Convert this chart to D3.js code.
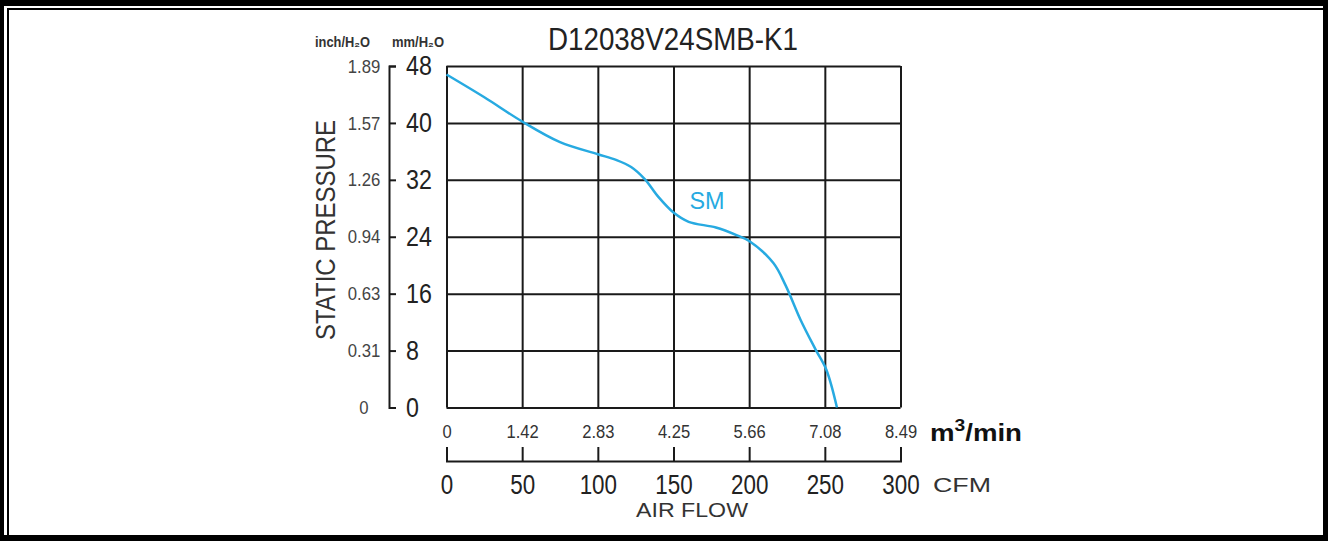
<!DOCTYPE html>
<html>
<head>
<meta charset="utf-8">
<script src="https://cdn.jsdelivr.net/npm/d3@7"></script>
<style>
  body { margin: 0; background: #fff; }
  svg { display: block; font-family: "Liberation Sans", Arial, sans-serif; }
</style>
</head>
<body>
<div id="chart"></div>
<script>
// chart data
var cfmTicks = [0, 50, 100, 150, 200, 250, 300];
var m3Labels = ["0", "1.42", "2.83", "4.25", "5.66", "7.08", "8.49"];
var mmTicks = [0, 8, 16, 24, 32, 40, 48];
var inchLabels = ["0", "0.31", "0.63", "0.94", "1.26", "1.57", "1.89"];
var flowCfm = [0, 25, 50, 75, 100, 112, 122, 131, 140, 150, 160, 178, 192, 200, 216, 224, 234, 244, 251, 258];
var pressureMm = [46.8, 43.6, 40.2, 37.3, 35.6, 34.8, 33.8, 32.1, 29.6, 27.4, 26.1, 25.3, 24.2, 23.4, 20.3, 17.2, 12.3, 8.1, 5.3, 0];

var svgWidth = 1328;
var svgHeight = 541;
var margin = { top: 66, left: 446.5 };
var width = 454;
var height = 341.5;

var svg = d3.select("#chart")
            .append("svg")
            .attr("width", svgWidth)
            .attr("height", svgHeight);

// frame
svg.append("rect").attr("width", svgWidth).attr("height", svgHeight).attr("fill", "#000");
svg.append("rect").attr("x", 4).attr("y", 6).attr("width", 1319).attr("height", 529).attr("fill", "#fff");
svg.append("rect").attr("x", 7).attr("y", 8).attr("width", 1316).attr("height", 2).attr("fill", "#000");
svg.append("rect").attr("x", 7).attr("y", 8).attr("width", 2).attr("height", 527).attr("fill", "#000");

var chartGroup = svg.append("g")
                    .attr("transform", `translate(${margin.left}, ${margin.top})`);

var x = d3.scaleLinear().domain([0, 300]).range([0, width]);
var y = d3.scaleLinear().domain([0, 48]).range([height, 0]);

// squeeze text like a narrow face
function narrow(sel, k) {
  sel.each(function() {
    var w = this.getComputedTextLength();
    d3.select(this).attr("textLength", w * k).attr("lengthAdjust", "spacingAndGlyphs");
  });
}

// grid
var gx = chartGroup.append("g")
                   .attr("transform", `translate(0, ${height})`)
                   .call(d3.axisBottom(x).tickValues(cfmTicks).tickSize(-height).tickFormat(""));
var gy = chartGroup.append("g")
                   .call(d3.axisLeft(y).tickValues(mmTicks).tickSize(-width).tickFormat(""));
[gx, gy].forEach(function(g) {
  g.select(".domain").remove();
  g.selectAll(".tick line").attr("stroke", "#1a1a1a").attr("stroke-width", 2);
});

// curve
var line = d3.line()
             .x(function(d, i) { return x(flowCfm[i]); })
             .y(function(d) { return y(d); })
             .curve(d3.curveCatmullRom.alpha(0.5));

chartGroup.append("path")
          .datum(pressureMm)
          .attr("d", line)
          .attr("fill", "none")
          .attr("stroke", "#27aae1")
          .attr("stroke-width", 2.5);

chartGroup.append("text")
          .attr("x", x(160.5))
          .attr("y", y(27.9))
          .attr("fill", "#27aae1")
          .attr("font-size", 24)
          .attr("textLength", 35)
          .attr("lengthAdjust", "spacingAndGlyphs")
          .text("SM");

// mm/H2O axis
var mmAxis = svg.append("g")
                .attr("transform", `translate(389, ${margin.top})`)
                .call(d3.axisRight(y).tickValues(mmTicks).tickSize(7).tickPadding(10));
mmAxis.select(".domain").attr("stroke", "#1a1a1a").attr("stroke-width", 2);
mmAxis.selectAll(".tick line").attr("stroke", "#1a1a1a").attr("stroke-width", 2);
mmAxis.selectAll("text").attr("font-size", 27).attr("fill", "#222").attr("font-family", null)
      .call(narrow, 0.86);

// inch/H2O labels
var inchAxis = svg.append("g")
                  .attr("transform", `translate(389, ${margin.top})`)
                  .call(d3.axisLeft(y).tickValues(mmTicks).tickSize(0)
                          .tickFormat(function(d, i) { return inchLabels[i]; }));
inchAxis.select(".domain").remove();
inchAxis.selectAll("text").attr("x", -25).attr("text-anchor", "middle")
        .attr("font-size", 19).attr("fill", "#444").attr("font-family", null)
        .call(narrow, 0.88);

// m3/min labels
var m3Axis = svg.append("g")
                .attr("transform", `translate(${margin.left}, ${margin.top + height})`)
                .call(d3.axisBottom(x).tickValues(cfmTicks).tickSize(0).tickPadding(18)
                        .tickFormat(function(d, i) { return m3Labels[i]; }));
m3Axis.select(".domain").remove();
m3Axis.selectAll("text").attr("font-size", 18).attr("fill", "#333").attr("font-family", null)
      .call(narrow, 0.92);

// CFM axis
var cfmAxis = svg.append("g")
                 .attr("transform", `translate(${margin.left}, 461)`)
                 .call(d3.axisBottom(x).tickValues(cfmTicks).tickSize(-14).tickSizeOuter(-14).tickPadding(13));
cfmAxis.select(".domain").attr("stroke", "#1a1a1a").attr("stroke-width", 2);
cfmAxis.selectAll(".tick line").attr("stroke", "#1a1a1a").attr("stroke-width", 2);
cfmAxis.selectAll("text").attr("font-size", 28).attr("fill", "#222").attr("font-family", null)
       .call(narrow, 0.8);

// labels
svg.append("text")
   .attr("x", 673).attr("y", 50)
   .attr("text-anchor", "middle")
   .attr("font-size", 31).attr("fill", "#222")
   .attr("textLength", 250).attr("lengthAdjust", "spacingAndGlyphs")
   .text("D12038V24SMB-K1");

svg.append("text")
   .attr("transform", "translate(335, 230) rotate(-90)")
   .attr("text-anchor", "middle")
   .attr("font-size", 28).attr("fill", "#333")
   .attr("textLength", 220).attr("lengthAdjust", "spacingAndGlyphs")
   .text("STATIC PRESSURE");

svg.append("text")
   .attr("x", 315).attr("y", 47)
   .attr("font-size", 14).attr("font-weight", "bold").attr("fill", "#333")
   .attr("textLength", 55).attr("lengthAdjust", "spacingAndGlyphs")
   .text("inch/H₂O");

svg.append("text")
   .attr("x", 392).attr("y", 47)
   .attr("font-size", 14).attr("font-weight", "bold").attr("fill", "#333")
   .attr("textLength", 52).attr("lengthAdjust", "spacingAndGlyphs")
   .text("mm/H₂O");

var m3 = svg.append("text")
            .attr("x", 930).attr("y", 441)
            .attr("font-size", 23).attr("font-weight", "bold").attr("fill", "#111")
            .attr("textLength", 92).attr("lengthAdjust", "spacingAndGlyphs");
m3.append("tspan").text("m");
m3.append("tspan").attr("font-size", 16).attr("dy", -10).text("3");
m3.append("tspan").attr("dy", 10).text("/min");

svg.append("text")
   .attr("x", 933).attr("y", 492)
   .attr("font-size", 20).attr("fill", "#333")
   .attr("textLength", 58).attr("lengthAdjust", "spacingAndGlyphs")
   .text("CFM");

svg.append("text")
   .attr("x", 692).attr("y", 517)
   .attr("text-anchor", "middle")
   .attr("font-size", 20).attr("fill", "#333")
   .attr("textLength", 112).attr("lengthAdjust", "spacingAndGlyphs")
   .text("AIR FLOW");
</script>
</body>
</html>
